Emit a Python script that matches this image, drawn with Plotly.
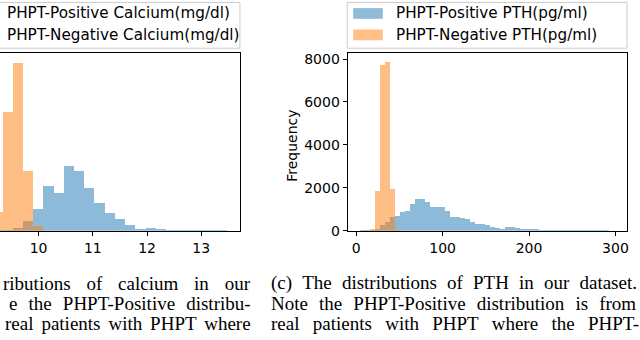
import numpy as np
import plotly.graph_objects as go

# calcium histogram (mg/dl), shared bin grid
ca_start = 9.147
ca_width = 0.1883
ca_positive = [20, 35, 165, 500, 1150, 2300, 1970, 3330, 3070, 2200, 1470, 930,
               600, 330, 130, 165, 100, 50, 35, 15, 15, 10, 10]
ca_negative = [1000, 6100, 8650, 3100, 250]

# PTH histogram (pg/ml), shared bin grid
pth_start = 3.9
pth_width = 5.77
pth_positive = [30, 30, 40, 120, 270, 450, 650, 710, 875, 950, 1280, 1480, 1510,
                1360, 1120, 1130, 1130, 920, 650, 680, 620, 545, 420, 350, 350,
                270, 210, 150, 120, 180, 180, 135, 90, 90, 90, 100, 70, 70, 70,
                70, 20, 70, 20, 20, 70, 15, 10, 10, 10, 10]
pth_negative = [0, 20, 90, 1860, 7720, 7890, 1960, 30]

ca_ticks = [10, 11, 12, 13]
pth_xticks = [0, 100, 200, 300]
pth_yticks = [0, 2000, 4000, 6000, 8000]

legend_left = ["PHPT-Positive Calcium(mg/dl)", "PHPT-Negative Calcium(mg/dl)"]
legend_right = ["PHPT-Positive PTH(pg/ml)", "PHPT-Negative PTH(pg/ml)"]
caption_left = ["ributions of calcium in our",
                "e the PHPT-Positive distribu-",
                "real patients with PHPT where"]
caption_right = ["(c) The distributions of PTH in our dataset.",
                 "Note the PHPT-Positive distribution is from",
                 "real patients with PHPT where the PHPT-"]

BLUE = "#1f77b4"
ORANGE = "#ff7f0e"
W, H = 640, 340
NB, THIN, HAIR = "\u00a0", "\u2009", "\u200a"


def px(x):
    return x / W


def py(y):
    return 1 - y / H


def centers(start, width, n):
    return start + width * (np.arange(n) + 0.5)


def justify(line, pad):
    # widen word gaps, like the justified caption in the paper
    return line.replace(" ", " " + pad)


fig = go.Figure()
for vals, col, xa, ya, start, width in [
        (ca_positive, BLUE, "x", "y", ca_start, ca_width),
        (ca_negative, ORANGE, "x", "y", ca_start, ca_width),
        (pth_positive, BLUE, "x2", "y2", pth_start, pth_width),
        (pth_negative, ORANGE, "x2", "y2", pth_start, pth_width)]:
    fig.add_trace(go.Bar(x=centers(start, width, len(vals)), y=vals, width=width,
                         marker=dict(color=col, line=dict(width=0)), opacity=0.5,
                         xaxis=xa, yaxis=ya, showlegend=False))

tickfont = dict(family="DejaVu Sans", size=14, color="black")
ydom = [py(236), py(53)]
axis_common = dict(showgrid=False, zeroline=False, linecolor="black", linewidth=1,
                   ticks="outside", ticklen=4, tickcolor="black", tickfont=tickfont)

fig.update_layout(
    width=W, height=H, margin=dict(l=0, r=0, t=0, b=0),
    paper_bgcolor="white", plot_bgcolor="white",
    barmode="overlay", bargap=0, showlegend=False,
    xaxis=dict(domain=[0, px(240.7)], range=[9.2886, 13.713], tickvals=ca_ticks,
               showline=True, mirror=True, anchor="y", **axis_common),
    yaxis=dict(domain=ydom, range=[0, 9150], side="right", showline=True,
               showticklabels=False, ticks="", showgrid=False, zeroline=False,
               linecolor="black", linewidth=1, anchor="x"),
    xaxis2=dict(domain=[px(348.7), px(629)], range=[-9.92, 313.4], tickvals=pth_xticks,
                showline=True, mirror=True, anchor="y2", **axis_common),
    yaxis2=dict(domain=ydom, range=[0, 8300], tickvals=pth_yticks,
                showline=True, mirror=True, anchor="x2", **axis_common),
)

legfont = dict(family="DejaVu Sans", size=15.2, color="black")
shapes = []
annotations = []

# legend boxes
for x0, x1 in [(-10, 240.7), (348.3, 629)]:
    shapes.append(dict(type="rect", xref="paper", yref="paper",
                       x0=px(x0), x1=px(x1), y0=py(48.5), y1=py(1.5),
                       line=dict(color="#cccccc", width=1), fillcolor="white",
                       layer="above"))
rows = [12.8, 34.8]
for i, col in enumerate([BLUE, ORANGE]):
    shapes.append(dict(type="rect", xref="paper", yref="paper",
                       x0=px(354.3), x1=px(384), y0=py(rows[i] + 5.5), y1=py(rows[i] - 5.5),
                       line=dict(width=0), fillcolor=col, opacity=0.5, layer="above"))
    annotations.append(dict(x=px(6.5), y=py(rows[i]), xref="paper", yref="paper",
                            text=legend_left[i], showarrow=False, xanchor="left",
                            yanchor="middle", font=legfont, borderpad=0))
    annotations.append(dict(x=px(396.5), y=py(rows[i]), xref="paper", yref="paper",
                            text=legend_right[i], showarrow=False, xanchor="left",
                            yanchor="middle", font=legfont, borderpad=0))

annotations.append(dict(x=px(293.3), y=py(148.3), xref="paper", yref="paper",
                        text="Frequency", textangle=-90, showarrow=False,
                        font=dict(family="DejaVu Sans", size=14, color="black")))

capfont = dict(family="Liberation Serif", size=19, color="black")
cap_rows = [290, 310.5, 331]
pad_left = [NB * 2 + HAIR, NB + HAIR, HAIR * 2]
pad_right = [THIN + HAIR, NB + HAIR, NB + THIN]
for i in range(3):
    annotations.append(dict(x=px(253), y=py(cap_rows[i]), xref="paper", yref="paper",
                            text=justify(caption_left[i], pad_left[i]), showarrow=False,
                            xanchor="right", yanchor="middle", font=capfont, borderpad=0))
    annotations.append(dict(x=px(271), y=py(cap_rows[i]), xref="paper", yref="paper",
                            text=justify(caption_right[i], pad_right[i]), showarrow=False,
                            xanchor="left", yanchor="middle", font=capfont, borderpad=0))

fig.update_layout(shapes=shapes, annotations=annotations)
fig.write_html("out.html", config={"displayModeBar": False},
               post_script="document.body.style.margin='0px';"
                           "document.body.style.overflow='hidden';")
